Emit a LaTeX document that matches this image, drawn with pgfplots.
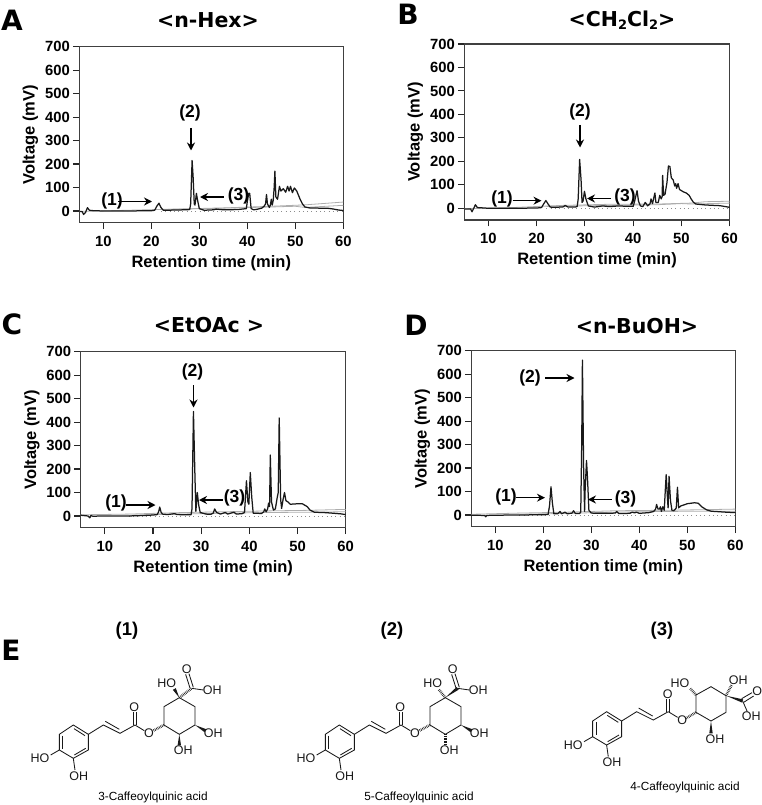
\documentclass[border=0pt]{standalone}
\usepackage{fontspec}
\setmainfont{Liberation Sans}
\newfontfamily\headfont{DejaVu Sans}
\usepackage{pgfplots}
\pgfplotsset{compat=1.18}
\usetikzlibrary{arrows.meta,calc}

\pgfplotsset{
  hplc/.style={
    scale only axis, anchor=north west,
    width=264pt, height=176pt,
    xmin=5, xmax=60, ymin=-50, ymax=700,
    xtick={10,20,...,60}, ytick={0,100,...,700},
    tick align=outside, tick pos=left,
    major tick length=6.5pt,
    tick style={black!85, line width=1.1pt},
    axis line style={black!75, line width=1.1pt},
    /pgf/number format/assume math mode=true,
    tick label style={font=\fontsize{14.8}{15}\selectfont\bfseries},
    xticklabel style={yshift=-3pt},
    yticklabel style={xshift=0.5pt},
    label style={font=\fontsize{16.5}{17}\selectfont\bfseries},
    xlabel={Retention time (min)},
    ylabel={Voltage (mV)},
    xlabel style={yshift=-2pt},
    ylabel style={yshift=0pt},
  },
  trace/.style={black!90, line width=1.25pt, line join=round},
  grad/.style={black!32, line width=.8pt},
  zero/.style={black!45, line width=.9pt, dash pattern=on .9pt off 3.4pt},
}

\newcommand{\ann}[3]{\node[font=\fontsize{17.5}{18}\selectfont\bfseries] at (#1pt,-#2pt) {#3};}
\newcommand{\arr}[4]{\draw[-{Stealth[length=8pt,width=8pt]},line width=1.4pt] (#1pt,-#2pt) -- (#3pt,-#4pt);}
\newcommand{\ttl}[3]{\node[font=\headfont\fontsize{20.5}{22}\selectfont\bfseries] at (#1pt,-#2pt) {#3};}
\newcommand{\letter}[3]{\node[font=\headfont\fontsize{28}{30}\selectfont\bfseries] at (#1pt,-#2pt) {#3};}

% molecule helpers, coordinates are crop pixels (3 per image pixel)
\newcommand{\wedgeb}[2]{\fill (#1) -- ($(#2)!1.7pt!90:(#1)$) -- ($(#2)!1.7pt!-90:(#1)$) -- cycle;}
\newcommand{\hashb}[2]{\draw[line width=2.6pt, dash pattern=on .6pt off 1pt] (#1) -- (#2);}
\newcommand{\atom}[2]{\node[font=\fontsize{12.5}{12}\selectfont, inner sep=0pt] at (#1) {#2};}
\newcommand{\caffeoyl}{%
  \draw (205,283) -- (160,255) -- (118,283) -- (118,330) -- (160,355) -- (205,330) -- cycle;
  \draw (128,287) -- (128,326);
  \draw (162,266) -- (195,287);
  \draw (197,325) -- (163,345);
  \draw (118,330) -- (92,345);
  \draw (160,355) -- (165,390);
  \draw (205,283) -- (250,255) -- (300,280) -- (345,255);
  \draw (256,244) -- (298,268);
  \draw (339,255) -- (339,217);
  \draw (349,255) -- (349,217);
  \draw (345,255) -- (373,272);
  \atom{60,356}{HO}
  \atom{176,408}{OH}
  \atom{343,201}{O}
  \atom{387,280}{O}
}
\newcommand{\quinring}{%
  \draw (432,255) -- (432,200) -- (478,173) -- (525,200) -- (525,255) -- (478,283) -- cycle;
  \hashb{432,255}{400,272}
  \draw (510,144) -- (497,103);
  \draw (520,142) -- (507,101);
  \draw (515,145) -- (550,150);
  \atom{440,130}{HO}
  \atom{500,88}{O}
  \atom{577,152}{OH}
  \atom{580,280}{OH}
  \atom{490,330}{OH}
}

\begin{document}
\begin{tikzpicture}[x=1pt,y=1pt]
\useasboundingbox (0,0) rectangle (762pt,-805pt);

\begin{axis}[hplc, at={(79.3pt,-46.7pt)}]
\addplot[grad] coordinates {(5,-2) (15,3) (25,8) (35,13) (45,20) (52,26) (60,38)};
\addplot[grad] coordinates {(22,6) (35,12) (45,17) (50,20) (52,15) (60,24)};
\addplot[zero] coordinates {(22,0) (60,0)};
\addplot[trace] coordinates {(5,-2) (5.6,-3) (5.9,-15) (6.3,-6) (6.7,14) (7.1,3) (8,1) (10,0) (15,0) (20,1) (20.7,3) (21.2,22) (21.6,33) (22,15) (22.5,3) (23,3) (25,4) (27,5) (28,6) (28.2,30) (28.5,215) (28.7,150) (28.95,30) (29.1,25) (29.4,75) (29.6,50) (30,10) (31,3) (33,5) (33.5,8) (35,5) (38,6) (39.8,10) (40,40) (40.3,75) (40.5,75) (40.8,10) (41.3,5) (42,7) (43,12) (43.5,20) (43.8,30) (44,70) (44.2,30) (44.6,15) (44.8,25) (45,50) (45.2,25) (45.4,45) (45.6,100) (45.75,170) (45.95,60) (46.3,50) (46.7,105) (47,85) (47.5,95) (48,80) (48.4,105) (48.7,85) (49,105) (49.4,78) (49.8,98) (50.3,85) (51,50) (51.5,30) (52,17) (53,13) (55,12) (57,11) (58,8) (59,4) (60,2)};
\end{axis}

\begin{axis}[hplc, at={(464.3pt,-44pt)}, width=265.4pt]
\addplot[grad] coordinates {(5,-2) (15,3) (25,12) (35,17) (45,18) (52,22) (55,28) (60,30)};
\addplot[grad] coordinates {(22,8) (35,12) (45,15) (50,20) (52,18) (60,22)};
\addplot[zero] coordinates {(22,0) (60,0)};
\addplot[trace] coordinates {(5,-3) (6.3,-3) (6.6,-15) (7,2) (7.3,15) (7.7,3) (10,0) (15,0) (20,1) (21,3) (21.5,20) (21.9,33) (22.3,20) (22.8,5) (24,4) (25.5,6) (25.9,12) (26.5,5) (28,5) (28.4,8) (28.6,40) (28.9,208) (29.2,120) (29.4,25) (29.6,30) (29.9,72) (30.2,40) (30.7,10) (32,5) (33.7,10) (35,7) (37,10) (38,9) (40,8) (40.3,30) (40.8,75) (41.1,30) (41.5,10) (42,7) (42.5,25) (43,10) (43.5,20) (43.7,40) (44,20) (44.5,65) (44.7,25) (45.2,25) (45.5,55) (45.8,40) (46,50) (46.1,140) (46.3,55) (46.6,60) (47,110) (47.3,180) (47.6,178) (47.9,130) (48.3,120) (48.6,95) (48.8,105) (49,85) (49.3,105) (49.6,80) (50,75) (50.4,70) (51,65) (51.6,55) (52,40) (52.5,25) (53,18) (55,14) (58,11) (60,4)};
\end{axis}

\begin{axis}[hplc, at={(80.7pt,-351.7pt)}, width=265pt]
\addplot[grad] coordinates {(5,5) (15,8) (25,14) (35,18) (45,22) (52,24) (60,28)};
\addplot[grad] coordinates {(15,3) (25,8) (35,12) (45,15) (52,16) (60,18)};
\addplot[zero] coordinates {(15,0) (60,0)};
\addplot[trace] coordinates {(5,3) (6.5,0) (6.9,-8) (7.1,2) (7.5,-1) (10,0) (15,0) (18,2) (20,4) (20.9,6) (21.2,20) (21.4,38) (21.7,15) (22,8) (23,6) (24.5,10) (25,6) (27,5) (27.9,5) (28.1,30) (28.4,445) (28.7,180) (28.9,20) (29.2,100) (29.5,45) (29.8,15) (31,8) (32,7) (32.5,12) (32.8,30) (33.2,15) (34,8) (35,15) (35.5,8) (36.8,16) (37.3,8) (38.5,10) (39,15) (39.4,150) (39.7,60) (39.9,50) (40.2,185) (40.5,80) (40.8,12) (41.5,12) (42.5,10) (43,18) (43.2,30) (43.5,18) (43.8,30) (44,55) (44.2,40) (44.35,260) (44.6,60) (45,25) (45.4,30) (45.8,80) (46,100) (46.2,418) (46.5,70) (46.7,32) (47,70) (47.3,100) (47.6,65) (48,60) (48.5,50) (50,52) (51,52) (52,40) (52.6,25) (53.5,16) (56,14) (59,9) (60,6)};
\end{axis}

\begin{axis}[hplc, at={(471.3pt,-350.7pt)}]
\addplot[grad] coordinates {(5,3) (15,8) (25,12) (35,18) (45,20) (52,22) (60,25)};
\addplot[grad] coordinates {(15,3) (25,7) (35,12) (45,15) (52,16) (60,16)};
\addplot[zero] coordinates {(15,0) (60,0)};
\addplot[trace] coordinates {(5,-1) (7.8,-2) (8,-8) (8.2,-2) (10,-1) (15,0) (20,1) (21,2) (21.3,40) (21.6,120) (21.9,50) (22.2,5) (23,5) (23.5,15) (23.8,5) (24.5,12) (25,5) (26,8) (26.3,18) (26.7,6) (27.5,6) (27.8,12) (28,300) (28.15,660) (28.4,200) (28.6,15) (28.7,100) (29,232) (29.2,160) (29.5,20) (30,8) (32,7) (35,8) (35.3,15) (35.7,6) (38,7) (38.5,12) (39,9) (39.4,12) (40,7) (42,10) (43,15) (43.4,25) (43.6,45) (43.9,25) (44.2,25) (44.4,35) (44.6,15) (44.9,35) (45.2,20) (45.4,100) (45.6,172) (45.9,60) (46,30) (46.2,165) (46.5,60) (46.8,20) (47.2,18) (47.7,30) (47.95,118) (48.2,30) (48.6,38) (50,48) (51.5,52) (52.3,50) (53,35) (54,22) (55,16) (58,12) (60,10)};
\end{axis}

% panel letters and titles
\letter{12}{20}{A} \letter{408}{14}{B} \letter{12}{324}{C} \letter{416}{325}{D} \letter{11}{650}{E}
\ttl{208}{20}{<n-Hex>}
\ttl{622}{20}{<CH\raisebox{-.25ex}{\fontsize{13}{13}\selectfont 2}Cl\raisebox{-.25ex}{\fontsize{13}{13}\selectfont 2}>}
\ttl{209}{325}{<EtOAc >}
\ttl{637}{326}{<n-BuOH>}

% peak annotations
\ann{112}{201}{(1)} \arr{118}{201.5}{152}{201.5}
\ann{190}{113}{(2)} \arr{191}{128}{191}{150.5}
\ann{238.5}{196}{(3)} \arr{223.5}{197}{200}{197}

\ann{502}{199}{(1)} \arr{512.5}{200.7}{541.5}{200.7}
\ann{580}{112}{(2)} \arr{580}{125}{580}{147.5}
\ann{625}{197}{(3)} \arr{611}{198.5}{587}{198.5}

\ann{116}{503}{(1)} \arr{126}{505}{155.5}{505}
\ann{192.5}{372}{(2)} \arr{193.5}{385}{193.5}{407.5}
\ann{234.5}{498}{(3)} \arr{222.5}{500}{199}{500}

\ann{506}{497}{(1)} \arr{516}{497.7}{545}{497.7}
\ann{530}{378}{(2)} \arr{545}{378}{574.5}{378}
\ann{625.5}{499}{(3)} \arr{611.5}{499.5}{588}{499.5}

% compound row
\node[font=\fontsize{18.5}{19}\selectfont\bfseries] at (127pt,-631pt) {(1)};
\node[font=\fontsize{18.5}{19}\selectfont\bfseries] at (392pt,-631pt) {(2)};
\node[font=\fontsize{18.5}{19}\selectfont\bfseries] at (662pt,-631pt) {(3)};
\node[font=\fontsize{11.8}{12}\selectfont] at (153pt,-797pt) {3-Caffeoylquinic acid};
\node[font=\fontsize{11.8}{12}\selectfont] at (419pt,-797pt) {5-Caffeoylquinic acid};
\node[font=\fontsize{11.8}{12}\selectfont] at (685pt,-787pt) {4-Caffeoylquinic acid};

\begin{scope}[shift={(20pt,-640pt)},x=.3333pt,y=-.3333pt,line width=.85pt,black!90]
  \caffeoyl \quinring
  \wedgeb{525,255}{556,272}
  \wedgeb{478,283}{478,316}
  \wedgeb{478,173}{463,147}
  \hashb{478,173}{515,145}
\end{scope}

\begin{scope}[shift={(286pt,-640pt)},x=.3333pt,y=-.3333pt,line width=.85pt,black!90]
  \caffeoyl \quinring
  \wedgeb{525,255}{556,272}
  \hashb{478,283}{478,316}
  \hashb{478,173}{458,148}
  \wedgeb{478,173}{515,145}
\end{scope}

\begin{scope}[shift={(553.3pt,-626.7pt)},x=.3333pt,y=-.3333pt,line width=.85pt,black!90]
  \caffeoyl
\end{scope}
\begin{scope}[shift={(550pt,-640pt)},x=.3333pt,y=-.3333pt,line width=.85pt,black!90]
  \draw (438,217) -- (438,165) -- (483,140) -- (528,167) -- (528,217) -- (483,243) -- cycle;
  \hashb{438,217}{408,235}
  \hashb{438,165}{420,145}
  \hashb{528,167}{545,135}
  \wedgeb{483,243}{483,280}
  \wedgeb{528,167}{578,183}
  \draw (575,176) -- (606,158);
  \draw (581,187) -- (611,168);
  \draw (578,183) -- (592,215);
  \atom{390,130}{HO}
  \atom{565,120}{OH}
  \atom{622,155}{O}
  \atom{604,230}{OH}
  \atom{495,297}{OH}
\end{scope}
\end{tikzpicture}
\end{document}
